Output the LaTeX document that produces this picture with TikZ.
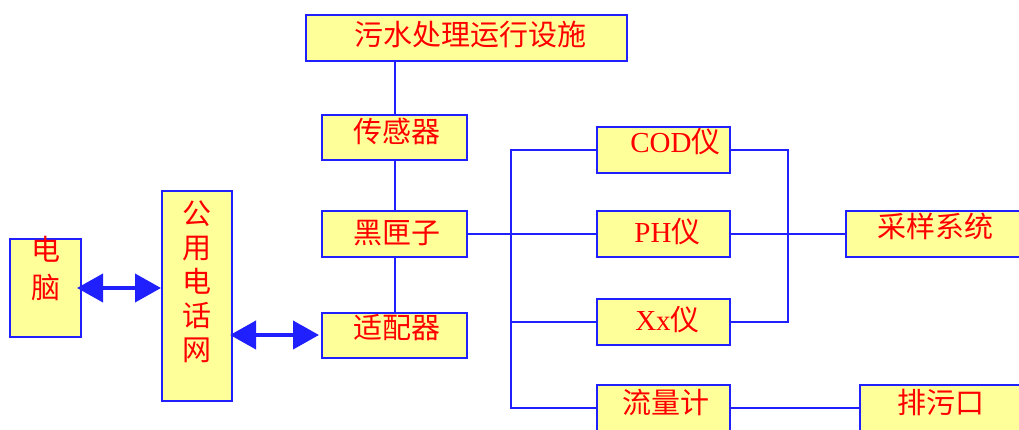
\documentclass[tikz,border=0pt]{standalone}
\usepackage{fontspec}
\setmainfont{Liberation Serif}
\newfontfamily\cjk{Noto Sans CJK SC}
\usetikzlibrary{arrows.meta}
\definecolor{boxfill}{HTML}{FFFF99}
\definecolor{lineblue}{HTML}{2020FF}
\definecolor{txtred}{HTML}{FF0000}
% #1 raise (pt), #2 horizontal shift (2x pt), #3 text
\newcommand{\bt}[3]{\raisebox{#1pt}[0pt][0pt]{\makebox[0pt]{\hspace*{#2pt}#3}}}
\begin{document}
\begin{tikzpicture}[x=1pt,y=-1pt,
  box/.style={draw=lineblue, line width=2pt, fill=boxfill, inner sep=0pt,
    text=txtred, font=\fontsize{29pt}{34pt}\selectfont},
  conn/.style={draw=lineblue, line width=2pt},
  dbl/.style={draw=lineblue, line width=4pt,
    {Triangle[length=26pt,width=28pt]}-{Triangle[length=26pt,width=28pt]}}]
\useasboundingbox (0,0) rectangle (1019,430);
\fill[white] (0,0) rectangle (1019,430);

\node[box, minimum width=321pt, minimum height=46pt] (top) at (466.5,38) {\bt{-7.5}{7}{\cjk 污水处理运行设施}};
\node[box, minimum width=145pt, minimum height=45pt] (sen) at (394.5,137.5) {\bt{-5.5}{4}{\cjk 传感器}};
\node[box, minimum width=145pt, minimum height=46pt] (bb) at (394.5,234) {\bt{-9.5}{4}{\cjk 黑匣子}};
\node[box, minimum width=145pt, minimum height=45pt] (sp) at (394.5,335) {\bt{-3}{4}{\cjk 适配器}};

\node[box, minimum width=71pt, minimum height=98pt] (dn) at (45.5,288)
  {\raisebox{-10.6pt}[0pt][0pt]{\makebox[0pt]{\parbox[b]{40pt}{\centering\fontsize{29pt}{38pt}\selectfont\cjk 电\\脑}}}};
\node[box, minimum width=70pt, minimum height=210pt] (gy) at (197,296)
  {\raisebox{-64.6pt}[0pt][0pt]{\makebox[0pt]{\parbox[b]{40pt}{\centering\fontsize{29pt}{34pt}\selectfont\cjk 公\\用\\电\\话\\网}}}};

\node[box, minimum width=133pt, minimum height=46pt] (cod) at (663.5,150) {\bt{-2.5}{24}{COD{\cjk 仪}}};
\node[box, minimum width=133pt, minimum height=46pt] (ph) at (663.5,234) {\bt{-8.5}{8}{PH{\cjk 仪}}};
\node[box, minimum width=133pt, minimum height=46pt] (xx) at (663.5,322) {\bt{-8.5}{8}{Xx{\cjk 仪}}};
\node[box, minimum width=133pt, minimum height=46pt] (flow) at (663.5,408) {\bt{-5.5}{4}{\cjk 流量计}};

\node[box, minimum width=175pt, minimum height=46pt] (cy) at (933.5,234) {\bt{-3.5}{3}{\cjk 采样系统}};
\node[box, minimum width=161pt, minimum height=46pt] (pw) at (940.5,408) {\bt{-5.5}{0}{\cjk 排污口}};

\coordinate (busL) at (511,0);
\coordinate (busR) at (788,0);

\draw[conn] (sen.north |- top.south) -- (sen.north);
\draw[conn] (sen.south) -- (bb.north);
\draw[conn] (bb.south) -- (sp.north);
\draw[conn] (bb.east) -- (ph.west);
\draw[conn] (cod.west) -- (cod.west -| busL) -- (flow.west -| busL) -- (flow.west);
\draw[conn] (xx.west) -- (xx.west -| busL);
\draw[conn] (cod.east) -- (cod.east -| busR) -- (xx.east -| busR) -- (xx.east);
\draw[conn] (ph.east) -- (cy.west);
\draw[conn] (flow.east) -- (pw.west);

\draw[dbl, shorten <=-5pt] (dn.east) -- (gy.west |- dn.east);
\draw[dbl, shorten <=-3pt, shorten >=2pt] (gy.east |- sp.west) -- (sp.west);
\end{tikzpicture}
\end{document}
